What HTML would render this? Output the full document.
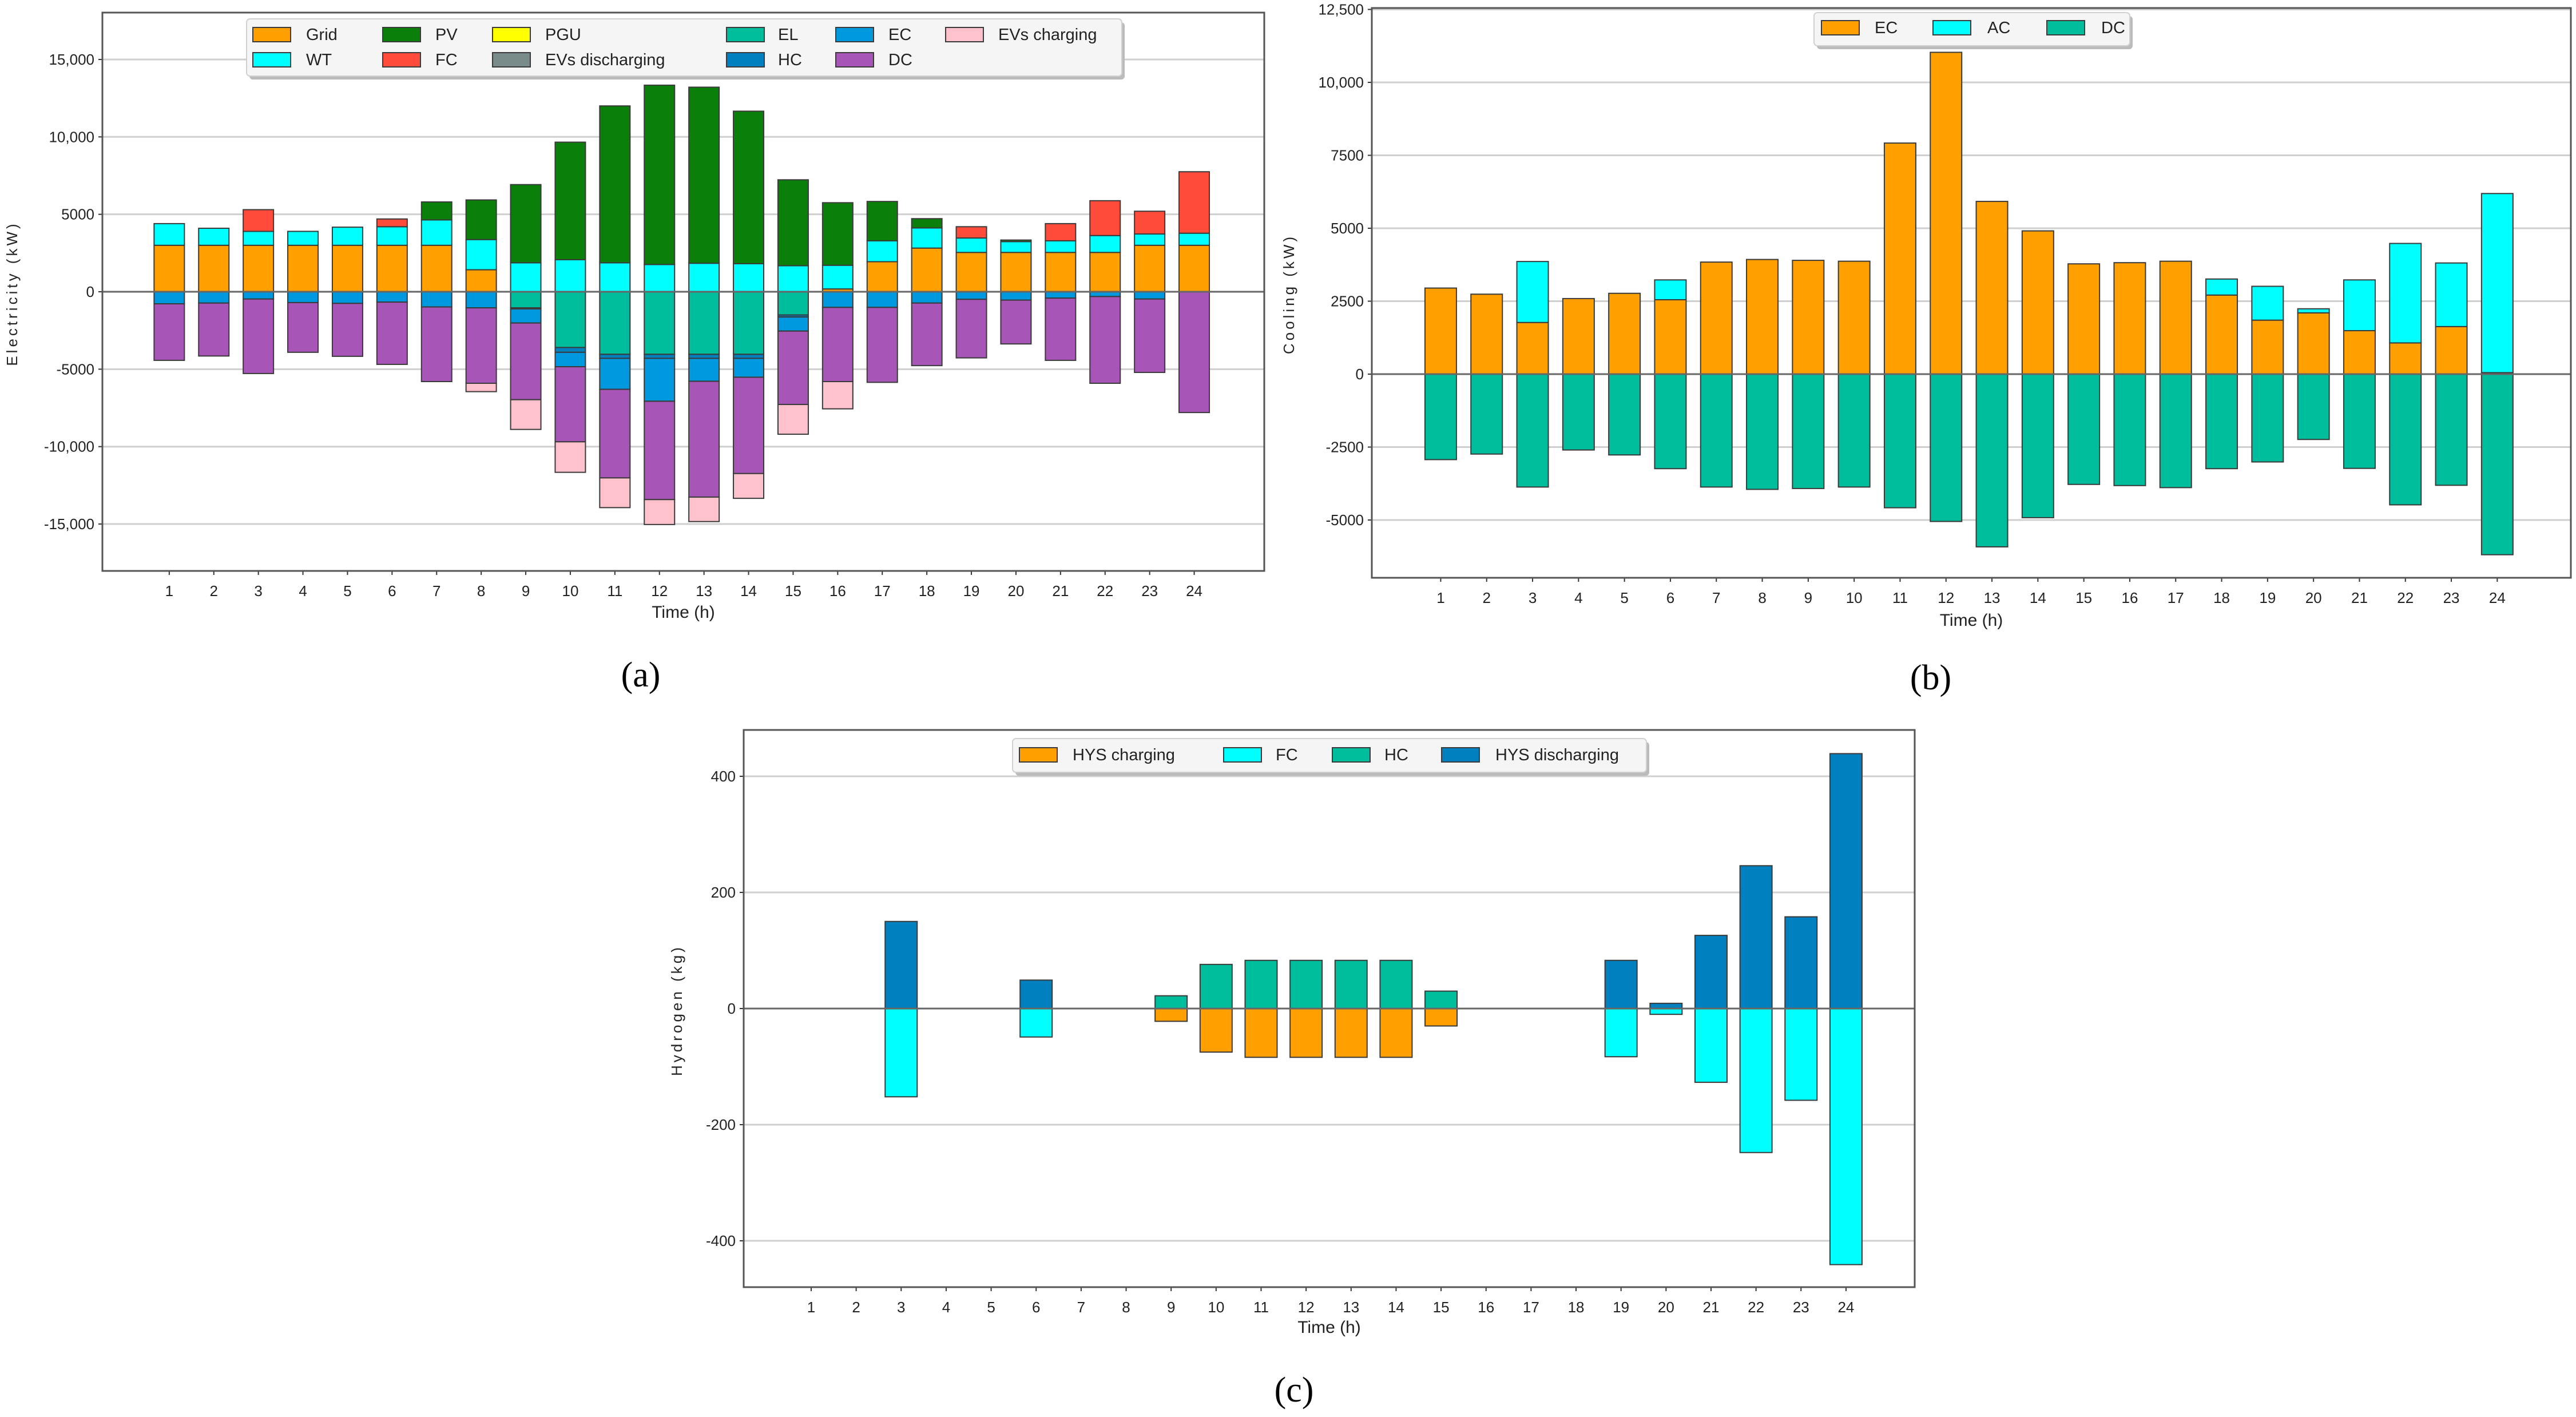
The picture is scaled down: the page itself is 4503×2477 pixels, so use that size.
<!DOCTYPE html>
<html><head><meta charset="utf-8">
<style>
html,body{margin:0;padding:0;background:#fff;}
svg{display:block;}
text{font-family:"WenQuanYi Zen Hei","Liberation Sans",sans-serif;fill:#222;}
.cap{font-family:"Liberation Serif",serif;font-size:62px;fill:#000;}
.ylab{font-family:"Liberation Sans",sans-serif;font-size:26px;letter-spacing:5px;}
</style></head>
<body>
<svg id="fig" xmlns="http://www.w3.org/2000/svg" width="4503" height="2477" viewBox="0 0 4503 2477">
<rect x="0" y="0" width="4503" height="2477" fill="#fff"/>
</svg>
<script>
// ---------- Chart (a) Electricity ----------
const hoursA = [1,2,3,4,5,6,7,8,9,10,11,12,13,14,15,16,17,18,19,20,21,22,23,24];
const gridA  = [3000,3000,3000,3000,3000,3000,3000,1420,0,0,0,0,0,0,0,180,1940,2820,2540,2540,2540,2540,3000,3000];
const wtA    = [1400,1100,900,900,1170,1200,1640,1950,1870,2070,1870,1760,1840,1810,1680,1530,1350,1300,930,700,750,1090,730,780];
const pvA    = [0,0,0,0,0,0,1160,2560,5050,7590,10130,11580,11370,9850,5550,4040,2540,600,0,100,0,0,0,0];
const pguA   = [0,0,0,0,0,0,0,0,0,0,0,0,0,0,0,0,0,0,0,0,0,0,0,0];
const fcA    = [0,0,1400,0,0,500,0,0,0,0,0,0,0,0,0,0,0,0,730,0,1110,2250,1470,3970];
const evDisA = [0,0,0,0,0,0,0,0,0,0,0,0,0,0,0,0,0,0,0,0,0,0,0,0];
const elA    = [0,0,0,0,0,0,0,0,-1040,-3600,-4040,-4040,-4040,-4040,-1500,0,0,0,0,0,0,0,0,0];
const hcA    = [0,0,0,0,0,0,0,0,-70,-310,-260,-260,-260,-260,-130,0,0,0,0,0,0,0,0,0];
const ecA    = [-780,-730,-470,-700,-750,-670,-980,-1040,-910,-930,-2000,-2770,-1480,-1220,-910,-1010,-1010,-730,-490,-540,-410,-310,-470,0];
const dcA    = [-3650,-3420,-4810,-3210,-3420,-4020,-4820,-4870,-4950,-4850,-5720,-6350,-7480,-6220,-4740,-4790,-4840,-4040,-3780,-2830,-4020,-5600,-4740,-7800];
const evChA  = [0,0,0,0,0,0,0,-540,-1920,-1970,-1920,-1610,-1580,-1600,-1920,-1760,0,0,0,0,0,0,0,0];
const ticksA = [-15000,-10000,-5000,0,5000,10000,15000];
const tickLabelsA = ["-15,000","-10,000","-5000","0","5000","10,000","15,000"];

// ---------- Chart (b) Cooling ----------
const hoursB = [1,2,3,4,5,6,7,8,9,10,11,12,13,14,15,16,17,18,19,20,21,22,23,24];
const ecB = [2950,2740,1770,2590,2770,2550,3840,3930,3900,3870,7920,11030,5920,4910,3780,3820,3870,2710,1850,2100,1490,1070,1630,50];
const acB = [0,0,2090,0,0,680,0,0,0,0,0,0,0,0,0,0,0,550,1160,140,1740,3410,2180,6140];
const dcB = [-2930,-2740,-3870,-2600,-2770,-3240,-3870,-3950,-3920,-3870,-4580,-5050,-5920,-4920,-3780,-3820,-3890,-3240,-3010,-2240,-3230,-4480,-3810,-6190];
const ticksB = [-5000,-2500,0,2500,5000,7500,10000,12500];
const tickLabelsB = ["-5000","-2500","0","2500","5000","7500","10,000","12,500"];

// ---------- Chart (c) Hydrogen ----------
const hoursC = [1,2,3,4,5,6,7,8,9,10,11,12,13,14,15,16,17,18,19,20,21,22,23,24];
const hcC    = [0,0,0,0,0,0,0,0,22,76,83,83,83,83,30,0,0,0,0,0,0,0,0,0];
const hysDisC= [0,0,150,0,0,49,0,0,0,0,0,0,0,0,0,0,0,0,83,9,126,246,158,439];
const hysChC = [0,0,0,0,0,0,0,0,-22,-75,-84,-84,-84,-84,-30,0,0,0,0,0,0,0,0,0];
const fcC    = [0,0,-152,0,0,-49,0,0,0,0,0,0,0,0,0,0,0,0,-83,-10,-127,-248,-158,-441];
const ticksC = [-400,-200,0,200,400];
const tickLabelsC = ["-400","-200","0","200","400"];

const NS = "http://www.w3.org/2000/svg";
const svg = document.getElementById('fig');
function el(tag, attrs, parent){
  const e = document.createElementNS(NS, tag);
  for (const k in attrs) e.setAttribute(k, attrs[k]);
  (parent||svg).appendChild(e);
  return e;
}

function drawChart(c){
  const g = el('g', {});
  
  
  const xScale = i => c.left + (i + 1.5) * c.step;   // i = 0..23
  const yScale = v => c.zeroY - v * c.ppu;
  // gridlines
  c.ticks.forEach((t, k) => {
    const y = yScale(t);
    if (t !== 0) {
      const gl = el('line', {x1:c.left, x2:c.right, y1:y, y2:y, stroke:'#cfcfcf', 'stroke-width':3}, g);
      
      
    }
    const tl = el('text', {x:c.left-14, y:y+9, 'text-anchor':'end', 'font-size':26}, g);
    tl.textContent = c.tickLabels[k];
    
    
    const tk = el('line', {x1:c.left-7, x2:c.left, y1:y, y2:y, stroke:'#333', 'stroke-width':2}, g);
    
    
  });
  // bars
  c.hours.forEach((h, i) => {
    let pos = 0, neg = 0;
    const cx = xScale(i);
    c.series.forEach(s => {
      const v = s.values[i];
      if (v === 0 && !c.drawZero) return;
      let y0, y1;
      if (v >= 0) { y0 = pos; y1 = pos + v; pos = y1; }
      else { y0 = neg; y1 = neg + v; neg = y1; }
      const top = Math.min(yScale(y0), yScale(y1));
      const hgt = Math.abs(yScale(y1) - yScale(y0));
      const r = el('rect', {x:cx - c.barW/2, y:top, width:c.barW, height:hgt, fill:s.color,
        stroke: v === 0 ? '#999' : '#3a3a3a', 'stroke-width': v === 0 ? 3 : 2}, g);
      
      
    });
    const xt = el('line', {x1:cx, x2:cx, y1:c.bottom, y2:c.bottom+7, stroke:'#333', 'stroke-width':2}, g);
    
    
    const xl = el('text', {x:cx, y:c.bottom+44, 'text-anchor':'middle', 'font-size':26}, g);
    xl.textContent = h;
    
    
  });
  // zero line
  const zl = el('line', {x1:c.left, x2:c.right, y1:c.zeroY, y2:c.zeroY, stroke:'#666', 'stroke-width':3}, g);
  
  
  // frame
  const fr = el('rect', {x:c.left, y:c.top, width:c.right-c.left, height:c.bottom-c.top, fill:'none', stroke:'#555', 'stroke-width':3}, g);
  
  
  // axis titles
  const xt = el('text', {x:(c.left+c.right)/2, y:c.xTitleY, 'text-anchor':'middle', 'font-size':30}, g);
  xt.textContent = 'Time (h)';
  
  
  const yt = el('text', {x:0, y:0, 'text-anchor':'middle', class:'ylab', transform:'translate(' + c.yTitleX + ',' + c.yTitleY + ') rotate(-90)'}, g);
  yt.textContent = c.yTitle;
  
  
  // legend
  const lg = el('g', {}, g);
  
  
  el('rect', {x:c.legend.x+5, y:c.legend.y+6, width:c.legend.w, height:c.legend.h, rx:6, fill:'#bbb'}, lg);
  el('rect', {x:c.legend.x, y:c.legend.y, width:c.legend.w, height:c.legend.h, rx:6, fill:'#f5f5f5', stroke:'#d0d0d0', 'stroke-width':2}, lg);
  c.legend.items.forEach(it => {
    const e = el('g', {}, lg);
    
    
    el('rect', {x:it.px, y:it.cy-12, width:66, height:25, fill:it.color, stroke:'#3a3a3a', 'stroke-width':2}, e);
    const t = el('text', {x:it.tx, y:it.cy+10, 'font-size':29}, e);
    t.textContent = it.label;
  });
  // caption
  const cp = el('text', {x:c.cap.x, y:c.cap.y, 'text-anchor':'middle', class:'cap'}, g);
  cp.textContent = c.cap.t;
  
  
}

const C = {orange:'#FF9F00', cyan:'#00FFFF', green:'#0A800A', yellow:'#FFFF00', red:'#FF4B3A', gray:'#7A8C8A',
  teal:'#00BE9C', hc:'#0080BE', ec:'#0098DE', purple:'#A855B8', pink:'#FFC2CC'};

// chart a
(function(){
  const zeroY = 510, ppu = 0.02707;
  drawChart({name:'electricity-chart', hours:hoursA, left:179, right:2210, top:22, bottom:998,
    zeroY, ppu, step:77.9, barW:53, ticks:ticksA, tickLabels:tickLabelsA,
    series:[
      {key:'grid', values:gridA, color:C.orange},
      {key:'wt', values:wtA, color:C.cyan},
      {key:'pv', values:pvA, color:C.green},
      {key:'pgu', values:pguA, color:C.yellow},
      {key:'fc', values:fcA, color:C.red},
      {key:'evs-discharging', values:evDisA, color:C.gray},
      {key:'el', values:elA, color:C.teal},
      {key:'hc', values:hcA, color:C.hc},
      {key:'ec', values:ecA, color:C.ec},
      {key:'dc', values:dcA, color:C.purple},
      {key:'evs-charging', values:evChA, color:C.pink}],
    xTitleY:1080, yTitle:'Electricity (kW)', yTitleX:30, yTitleY:513,
    legend:{x:431, y:33, w:1530, h:100, items:[
      {key:'grid',label:'Grid',color:C.orange,px:442,tx:535,cy:60},
      {key:'pv',label:'PV',color:C.green,px:669,tx:761,cy:60},
      {key:'pgu',label:'PGU',color:C.yellow,px:861,tx:953,cy:60},
      {key:'el',label:'EL',color:C.teal,px:1270,tx:1360,cy:60},
      {key:'ec',label:'EC',color:C.ec,px:1461,tx:1553,cy:60},
      {key:'evs-charging',label:'EVs charging',color:C.pink,px:1653,tx:1745,cy:60},
      {key:'wt',label:'WT',color:C.cyan,px:442,tx:535,cy:104},
      {key:'fc',label:'FC',color:C.red,px:669,tx:761,cy:104},
      {key:'evs-discharging',label:'EVs discharging',color:C.gray,px:861,tx:953,cy:104},
      {key:'hc',label:'HC',color:C.hc,px:1270,tx:1360,cy:104},
      {key:'dc',label:'DC',color:C.purple,px:1461,tx:1553,cy:104}]},
    cap:{x:1120, y:1200, t:'(a)'}});
})();

// chart b
(function(){
  drawChart({name:'cooling-chart', hours:hoursB, left:2398, right:4494, top:14, bottom:1010,
    zeroY:654, ppu:0.051, step:80.3, barW:55, ticks:ticksB, tickLabels:tickLabelsB,
    series:[
      {key:'ec', values:ecB, color:C.orange},
      {key:'ac', values:acB, color:C.cyan},
      {key:'dc', values:dcB, color:C.teal}],
    xTitleY:1094, yTitle:'Cooling (kW)', yTitleX:2262, yTitleY:514,
    legend:{x:3171, y:22, w:552, h:58, items:[
      {key:'ec',label:'EC',color:C.orange,px:3184,tx:3277,cy:48},
      {key:'ac',label:'AC',color:C.cyan,px:3379,tx:3474,cy:48},
      {key:'dc',label:'DC',color:C.teal,px:3578,tx:3673,cy:48}]},
    cap:{x:3375, y:1205, t:'(b)'}});
})();

// chart c
(function(){
  drawChart({name:'hydrogen-chart', hours:hoursC, left:1300, right:3347, top:1276, bottom:2250,
    zeroY:1763, ppu:1.015, step:78.65, barW:56, ticks:ticksC, tickLabels:tickLabelsC, drawZero:false,
    series:[
      {key:'hc', values:hcC, color:C.teal},
      {key:'hys-discharging', values:hysDisC, color:C.hc},
      {key:'hys-charging', values:hysChC, color:C.orange},
      {key:'fc', values:fcC, color:C.cyan}],
    xTitleY:2330, yTitle:'Hydrogen (kg)', yTitleX:1192, yTitleY:1766,
    legend:{x:1770, y:1291, w:1108, h:59, items:[
      {key:'hys-charging',label:'HYS charging',color:C.orange,px:1782,tx:1875,cy:1319},
      {key:'fc',label:'FC',color:C.cyan,px:2139,tx:2230,cy:1319},
      {key:'hc',label:'HC',color:C.teal,px:2329,tx:2420,cy:1319},
      {key:'hys-discharging',label:'HYS discharging',color:C.hc,px:2520,tx:2614,cy:1319}]},
    cap:{x:2262, y:2450, t:'(c)'}});
})();
</script>
</body></html>
